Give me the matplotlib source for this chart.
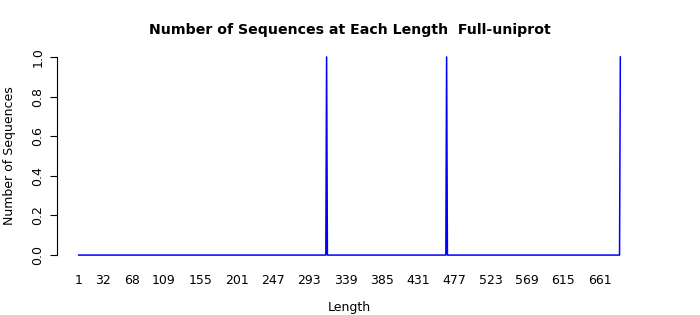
import numpy as np
import matplotlib
matplotlib.use('Agg')
import matplotlib.pyplot as plt

# sequence lengths that occur, and how many sequences at each
max_length = 687
peak_lengths = [315, 467, 687]
peak_counts = [1, 1, 1]
tick_labels = [1, 32, 68, 109, 155, 201, 247, 293, 339, 385, 431, 477, 523, 569, 615, 661]
y_ticks = [0.0, 0.2, 0.4, 0.6, 0.8, 1.0]

lengths = np.arange(1, max_length + 1)
counts = np.zeros(max_length)
for l, c in zip(peak_lengths, peak_counts):
    counts[l - 1] = c

fig = plt.figure(figsize=(7, 3.15), dpi=100)
ax = fig.add_axes([57/700, 52/315, 585/700, 214/315])
ax.plot(lengths, counts, color='#0000ff', lw=1.1)

ax.set_xlim(1 - 0.04*(max_length - 1), max_length + 0.04*(max_length - 1))
ax.set_ylim(-0.04, 1.04)

for s in ['top', 'right', 'bottom']:
    ax.spines[s].set_visible(False)
ax.spines['left'].set_bounds(0, 1)
ax.spines['left'].set_linewidth(0.8)

ax.set_xticks(tick_labels)
ax.set_xticklabels([str(t) for t in tick_labels], fontsize=9)
ax.tick_params(axis='x', length=0, pad=8)
ax.set_yticks(y_ticks)
ax.set_yticklabels(['%.1f' % t for t in y_ticks], rotation=90, va='center', fontsize=9)
ax.tick_params(axis='y', length=5, width=0.8, pad=4)

ax.set_xlabel('Length', fontsize=9, labelpad=10)
ax.set_ylabel('Number of Sequences', fontsize=9, labelpad=11)
ax.set_title('Number of Sequences at Each Length  Full-uniprot', fontsize=10.2, fontweight='bold', pad=11)

fig.savefig('out.png', dpi=100)
